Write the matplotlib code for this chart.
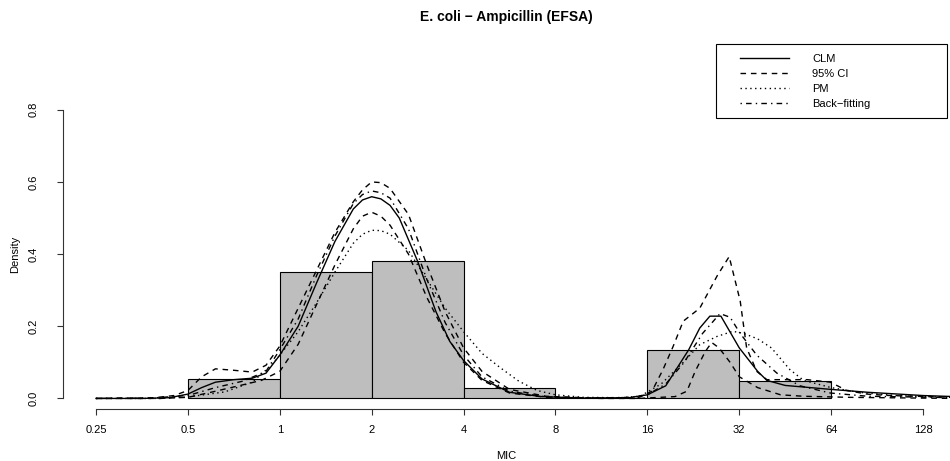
import numpy as np
import matplotlib.pyplot as plt
from matplotlib.patches import Rectangle
from matplotlib.lines import Line2D

plt.rcParams['font.family'] = ['Liberation Sans', 'DejaVu Sans']

# histogram of MIC values (bin edges in MIC, density per log2 unit)
bin_edges = [0.5, 1, 2, 4, 8, 16, 32, 64]
bin_density = [0.054, 0.350, 0.381, 0.029, 0.0, 0.134, 0.047]

# fitted density curves, positions given as log2(MIC)
clm_x = [-2, -1.5, -1.2, -1.0, -0.85, -0.7, -0.5, -0.3, -0.15, 0.0, 0.2, 0.4, 0.6, 0.8,
         0.9, 1.0, 1.1, 1.2, 1.3, 1.5, 1.7, 1.85, 2.0, 2.2, 2.5, 2.85, 3.3, 3.8, 4.0, 4.2,
         4.45, 4.57, 4.68, 4.8, 5.0, 5.2, 5.3, 5.5, 6.0, 6.4, 7.0, 7.35]
clm_y = [0, 0.0, 0.002, 0.012, 0.03, 0.045, 0.052, 0.056, 0.07, 0.12, 0.2, 0.32, 0.435,
         0.525, 0.55, 0.559, 0.553, 0.535, 0.5, 0.38, 0.24, 0.158, 0.105, 0.054, 0.017,
         0.005, 0.001, 0.002, 0.01, 0.035, 0.135, 0.195, 0.228, 0.228, 0.14, 0.075, 0.05,
         0.036, 0.025, 0.017, 0.008, 0.005]

ci_hi_x = [-2, -1.4, -1.15, -1.0, -0.85, -0.7, -0.5, -0.3, -0.15, 0.0, 0.2, 0.4, 0.6,
           0.8, 0.9, 1.0, 1.1, 1.2, 1.4, 1.6, 1.8, 2.0, 2.2, 2.5, 2.9, 3.4, 3.9, 4.05, 4.17,
           4.28, 4.39, 4.57, 4.76, 4.89, 5.01, 5.08, 5.19, 5.3, 5.74, 5.99, 6.17, 6.39,
           6.64, 7.35]
ci_hi_y = [0, 0.001, 0.008, 0.022, 0.06, 0.082, 0.078, 0.073, 0.092, 0.145, 0.25, 0.355,
           0.46, 0.545, 0.578, 0.60, 0.598, 0.582, 0.51, 0.37, 0.24, 0.14, 0.075, 0.025,
           0.006, 0.001, 0.002, 0.02, 0.08, 0.144, 0.214, 0.25, 0.34, 0.393, 0.27, 0.14,
           0.075, 0.052, 0.052, 0.045, 0.022, 0.012, 0.008, 0.003]

ci_lo_x = [-2, -1.3, -1.0, -0.75, -0.43, -0.2, 0.0, 0.2, 0.4, 0.6, 0.8, 0.9, 1.0, 1.1,
           1.2, 1.4, 1.6, 1.8, 2.0, 2.2, 2.5, 2.9, 3.5, 3.9, 4.3, 4.43, 4.52, 4.63, 4.70,
           4.78, 4.9, 5.0, 5.2, 5.45, 5.7, 6.2, 7.35]
ci_lo_y = [0, 0.0, 0.003, 0.017, 0.036, 0.05, 0.075, 0.15, 0.26, 0.37, 0.47, 0.505, 0.516,
           0.505, 0.48, 0.40, 0.28, 0.18, 0.10, 0.05, 0.015, 0.003, 0.0, 0.0, 0.005, 0.02,
           0.075, 0.13, 0.155, 0.14, 0.1, 0.06, 0.03, 0.01, 0.006, 0.003, 0.0]

pm_x = [-2, -1.3, -1.0, -0.6, -0.3, -0.1, 0.0, 0.2, 0.4, 0.6, 0.8, 0.9, 1.0, 1.1, 1.2,
        1.4, 1.6, 1.8, 2.0, 2.2, 2.4, 2.6, 2.8, 3.0, 3.3, 3.7, 3.92, 4.15, 4.39, 4.57,
        4.76, 4.93, 5.05, 5.2, 5.35, 5.45, 5.55, 5.7, 6.0, 6.3, 6.7, 7.35]
pm_y = [0, 0.0, 0.004, 0.018, 0.045, 0.09, 0.12, 0.185, 0.265, 0.35, 0.43, 0.455, 0.466,
        0.465, 0.455, 0.41, 0.33, 0.25, 0.185, 0.125, 0.085, 0.048, 0.022, 0.01, 0.003,
        0.002, 0.006, 0.04, 0.1, 0.149, 0.172, 0.186, 0.18, 0.165, 0.14, 0.11, 0.08,
        0.05, 0.03, 0.017, 0.008, 0.003]

bf_x = [-2, -1.4, -1.0, -0.7, -0.4, -0.15, 0.0, 0.2, 0.4, 0.6, 0.8, 0.9, 1.0, 1.1, 1.2,
        1.4, 1.6, 1.8, 2.0, 2.2, 2.5, 2.9, 3.4, 3.8, 4.0, 4.2, 4.4, 4.6, 4.79, 4.9, 5.01,
        5.19, 5.41, 5.66, 5.99, 6.4, 7.35]
bf_y = [0, 0.001, 0.008, 0.03, 0.048, 0.075, 0.135, 0.22, 0.34, 0.45, 0.54, 0.565, 0.575,
        0.57, 0.555, 0.47, 0.33, 0.21, 0.12, 0.06, 0.02, 0.004, 0.001, 0.003, 0.01, 0.04,
        0.1, 0.18, 0.235, 0.225, 0.18, 0.12, 0.07, 0.035, 0.015, 0.006, 0.002]

mic_ticks = [0.25, 0.5, 1, 2, 4, 8, 16, 32, 64, 128]
mic_labels = ['0.25', '0.5', '1', '2', '4', '8', '16', '32', '64', '128']
y_ticks = [0.0, 0.2, 0.4, 0.6, 0.8]
legend_labels = ['CLM', '95% CI', 'PM', 'Back\u2212fitting']

W, H = 950, 461
fig = plt.figure(figsize=(W / 100, H / 100), dpi=100)
# plot region in pixels: x 63..950, y 100..409
ax = fig.add_axes([63 / W, 1 - 409 / H, (950 - 63) / W, (409 - 100) / H])

lefts = bin_edges[:-1]
widths = np.diff(bin_edges)
ax.bar(lefts, bin_density, width=widths, align='edge', color='#bebebe',
       edgecolor='black', linewidth=0.8, zorder=1)

lw = 1.0
dash = (0, (4, 3.5))
dot = (0, (1, 2.5))
dotdash = (0, (1, 3, 4, 3))
ax.plot(np.exp2(clm_x), clm_y, color='black', lw=lw, ls='-', zorder=3)
ax.plot(np.exp2(ci_hi_x), ci_hi_y, color='black', lw=lw, ls=dash, zorder=3)
ax.plot(np.exp2(ci_lo_x), ci_lo_y, color='black', lw=lw, ls=dash, zorder=3)
ax.plot(np.exp2(pm_x), pm_y, color='black', lw=lw, ls=dot, zorder=3)
ax.plot(np.exp2(bf_x), bf_y, color='black', lw=lw, ls=dotdash, zorder=3)

ax.set_xscale('log', base=2)
ax.set_xlim(2 ** -2.359, 2 ** 7.293)
ax.set_ylim(-0.0293, 0.827)

ax.set_xticks(mic_ticks)
ax.set_xticklabels(mic_labels)
ax.xaxis.set_minor_locator(plt.NullLocator())
ax.set_yticks(y_ticks)
ax.set_yticklabels(['%.1f' % v for v in y_ticks], rotation=90, va='center')

for s in ['top', 'right']:
    ax.spines[s].set_visible(False)
ax.spines['left'].set_bounds(0, 0.8)
ax.spines['bottom'].set_bounds(0.25, 128)
for s in ['left', 'bottom']:
    ax.spines[s].set_linewidth(0.8)
    ax.spines[s].set_color('#333333')
ax.tick_params(axis='x', length=4.3, width=0.8, pad=7, labelsize=8, color='#333333')
ax.tick_params(axis='y', length=4.3, width=0.8, pad=13, labelsize=8, color='#333333')

fig.text(506 / W, 1 - 17 / H, 'E. coli \u2212 Ampicillin (EFSA)', ha='center',
         va='center', fontsize=10, fontweight='bold')
fig.text(506 / W, 1 - 456 / H, 'MIC', ha='center', va='center', fontsize=8)
fig.text(15 / W, 1 - 254 / H, 'Density', ha='center', va='center', fontsize=8,
         rotation=90)

# legend box, R style
fig.add_artist(Rectangle((716 / W, 1 - 118 / H), (947 - 716) / W, 74 / H,
                         transform=fig.transFigure, fill=False, edgecolor='black',
                         linewidth=0.8))
handles = [Line2D([], [], color='black', lw=lw, ls='-'),
           Line2D([], [], color='black', lw=lw, ls=dash),
           Line2D([], [], color='black', lw=lw, ls=dot),
           Line2D([], [], color='black', lw=lw, ls=dotdash)]
ax.legend(handles, legend_labels, loc='upper left',
          bbox_to_anchor=(740 / W, 1 - 54 / H), bbox_transform=fig.transFigure,
          frameon=False, borderpad=0, borderaxespad=0, handlelength=4.4,
          handletextpad=2.1, labelspacing=0.45, fontsize=8)

fig.savefig('out.png', dpi=100)
